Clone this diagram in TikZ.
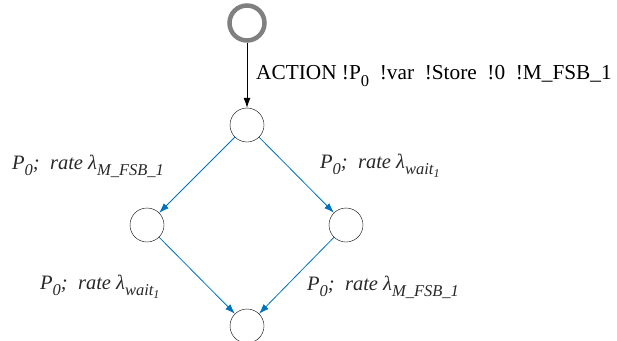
\documentclass[tikz,border=0pt]{standalone}
\usepackage{fontspec}
\setmainfont{Liberation Serif}
\usetikzlibrary{arrows.meta}
\definecolor{arrblue}{RGB}{0,114,189}
\definecolor{txtgray}{RGB}{40,40,40}
\newcommand{\mysub}[1]{\raisebox{-0.3em}{\fontsize{16.5}{16}\selectfont #1}}
\newcommand{\mysubsub}[1]{\raisebox{-0.2em}{\fontsize{12}{12}\selectfont #1}}
\begin{document}
\begin{tikzpicture}[x=1pt,y=-1pt,
  state/.style={circle,draw,thin,minimum size=34pt,inner sep=0pt},
  initst/.style={circle,draw=black!50,line width=4.5pt,minimum size=35pt,inner sep=0pt},
  tr/.style={draw=arrblue,line width=0.8pt,-{Latex[length=10pt,width=7pt]}},
  lbl/.style={font=\fontsize{20.5}{24}\selectfont\itshape,text=txtgray,inner sep=0pt}]
\useasboundingbox (0,0) rectangle (617,340);
\node[initst] (s0) at (247,23) {};
\node[state] (s1) at (247,125) {};
\node[state] (s2) at (147,225) {};
\node[state] (s3) at (346,225) {};
\node[state] (s4) at (247,326) {};
\draw[line width=0.8pt,-{Latex[length=10pt,width=7pt]}] (s0) -- (s1);
\draw[tr] (s1) -- (s2);
\draw[tr] (s1) -- (s3);
\draw[tr] (s2) -- (s4);
\draw[tr] (s3) -- (s4);
\node[font=\fontsize{21.3}{24}\selectfont,anchor=west,inner sep=0pt] (l0) at (256,76) {ACTION !P\mysub{0} \ !var \ !Store \ !0 \ !M\_FSB\_1};
\node[lbl,anchor=west] (l1) at (12,166) {P\mysub{0}; \ rate λ\mysub{M\_FSB\_1}};
\node[lbl,anchor=west] (l2) at (320,166) {P\mysub{0}; \ rate λ\mysub{wait\mysubsub{1}}};
\node[lbl,anchor=west] (l3) at (40,287) {P\mysub{0}; \ rate λ\mysub{wait\mysubsub{1}}};
\node[lbl,anchor=west] (l4) at (307,287) {P\mysub{0}; \ rate λ\mysub{M\_FSB\_1}};
\end{tikzpicture}
\end{document}
